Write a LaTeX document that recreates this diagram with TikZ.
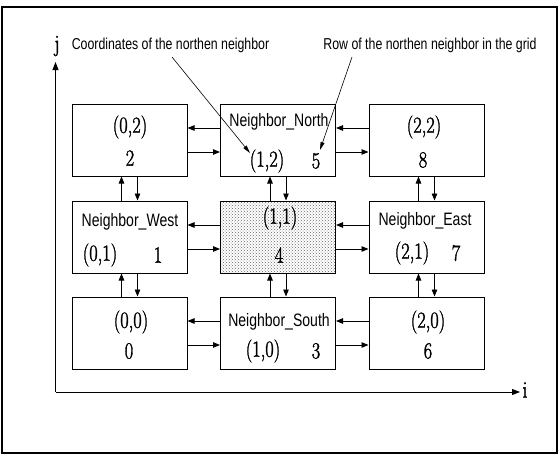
\documentclass[tikz,border=0pt]{standalone}
\usepackage{fontspec}
\newfontfamily\lab{Liberation Sans}[FakeStretch=0.78]
\newfontfamily\numf{Latin Modern Roman}[FakeStretch=0.8,FakeBold=1.5]
\usetikzlibrary{arrows.meta,patterns}
\begin{document}
\begin{tikzpicture}[x=1pt,y=-1pt,
  cell/.style={draw,line width=1pt,minimum width=115pt,minimum height=72pt,inner sep=0pt},
  arr/.style={line width=0.9pt,-{Triangle[length=7pt,width=5.5pt]}},
  axarr/.style={line width=0.9pt,-{Triangle[length=8pt,width=6pt]}},
  notearr/.style={line width=0.6pt,-{Triangle[length=8pt,width=4pt]}},
  num/.style={inner sep=0pt,font=\numf\fontsize{23}{26}\selectfont},
  lbl/.style={inner sep=0pt,font=\lab\fontsize{18}{21}\selectfont},
  note/.style={inner sep=0pt,font=\lab\fontsize{15.8}{18}\selectfont},
  axl/.style={inner sep=0pt,font=\numf\fontsize{24}{26}\selectfont},
]
\useasboundingbox (0,0) rectangle (560,456);
\draw[line width=1.4pt] (2,7) rectangle (557,453);

% cells
\node[cell] (c02) at (129.5,140) {};
\node[cell] (c12) at (278,140) {};
\node[cell] (c22) at (426.5,140) {};
\node[cell] (c01) at (129.5,237) {};
\node[cell,pattern=crosshatch dots,pattern color=black!60] (c11) at (278,237) {};
\node[cell] (c21) at (426.5,237) {};
\node[cell] (c00) at (129.5,333) {};
\node[cell] (c10) at (278,333) {};
\node[cell] (c20) at (426.5,333) {};

% texts
\node[num] (t02a) at (130,127) {(0,2)};
\node[num] (t02b) at (130,158) {2};
\node[lbl] (t12a) at (279,122) {Neighbor\_North};
\node[num] (t12b) at (267,161) {(1,2)};
\node[num] (t12c) at (316,161) {5};
\node[num] (t22a) at (424,127) {(2,2)};
\node[num] (t22b) at (423,160) {8};
\node[lbl] (t01a) at (130,222) {Neighbor\_West};
\node[num] (t01b) at (100,255) {(0,1)};
\node[num] (t01c) at (158,255) {1};
\node[num] (t11a) at (280,218) {(1,1)};
\node[num] (t11b) at (279,255) {4};
\node[lbl] (t21a) at (425,221) {Neighbor\_East};
\node[num] (t21b) at (412,253) {(2,1)};
\node[num] (t21c) at (456,253) {7};
\node[num] (t00a) at (131,322) {(0,0)};
\node[num] (t00b) at (129,351) {0};
\node[lbl] (t10a) at (279,322) {Neighbor\_South};
\node[num] (t10b) at (263,351) {(1,0)};
\node[num] (t10c) at (316,351) {3};
\node[num] (t20a) at (428,322) {(2,0)};
\node[num] (t20b) at (428,351) {6};

% horizontal arrows
\foreach \l/\r in {c02/c12,c12/c22,c01/c11,c11/c21,c00/c10,c10/c20}{
  \draw[arr] ([yshift=12pt]\r.west) -- ([yshift=12pt]\l.east);
  \draw[arr] ([yshift=-12pt]\l.east) -- ([yshift=-12pt]\r.west);
}
% vertical arrows
\foreach \u/\d in {c02/c01,c01/c00,c12/c11,c11/c10,c22/c21,c21/c20}{
  \draw[arr] ([xshift=-8pt]\d.north) -- ([xshift=-8pt]\u.south);
  \draw[arr] ([xshift=8pt]\u.south) -- ([xshift=8pt]\d.north);
}

% axes
\coordinate (o) at (55.5,392);
\coordinate (jt) at (55.5,62);
\coordinate (it) at (520,392);
\draw[axarr] (o) -- (jt);
\draw[axarr] (o) -- (it);
\node[axl] (jl) at (57,46) {j};
\node[axl] (il) at (525,390) {i};

% annotations
\node[note] (n1) at (170.5,45) {Coordinates of the northen neighbor};
\node[note] (n2) at (430,45) {Row of the northen neighbor in the grid};
\coordinate (s1) at (172,57);
\coordinate (e1) at (250,153);
\coordinate (s2) at (352,57);
\coordinate (e2) at (320,150);
\draw[notearr] (s1) -- (e1);
\draw[notearr] (s2) -- (e2);
\end{tikzpicture}
\end{document}
